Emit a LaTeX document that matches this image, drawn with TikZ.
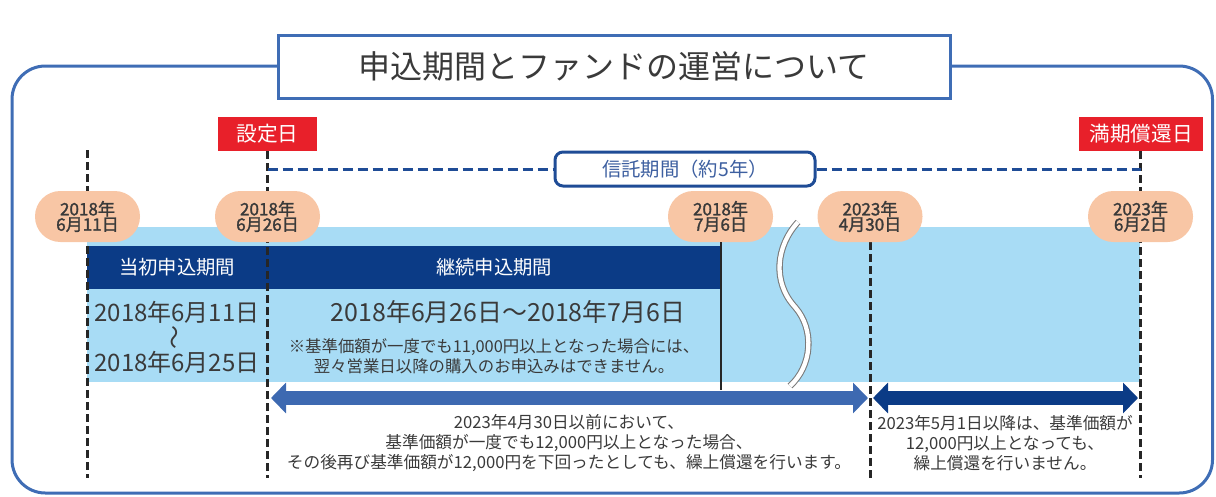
\documentclass[tikz,border=0pt]{standalone}
\usepackage{fontspec}
\setmainfont{Noto Sans CJK JP}
\newfontfamily\medfont[FakeBold=1.6]{Noto Sans CJK JP}
\usetikzlibrary{arrows.meta}
\definecolor{frameblue}{HTML}{3F6DB5}
\definecolor{redlab}{HTML}{E8202A}
\definecolor{peach}{HTML}{F8C6A5}
\definecolor{lightblue}{HTML}{A8DCF5}
\definecolor{navy}{HTML}{0B3B86}
\definecolor{arrowblue}{HTML}{3D69B1}
\definecolor{trustblue}{HTML}{1F4C96}
\definecolor{trusttext}{HTML}{3D5FA0}
\definecolor{txt}{HTML}{3A3A3A}
\definecolor{wavegray}{HTML}{7A7A7A}
\begin{document}
\begin{tikzpicture}[x=0.75pt,y=-0.75pt,
  frame/.style={draw=frameblue,line width=2.25pt,rounded corners=25pt},
  titlebox/.style={draw=frameblue,line width=2.25pt,fill=white,minimum width=504pt,minimum height=47.25pt,inner sep=0pt,text=txt,font=\fontsize{24pt}{28pt}\selectfont},
  redbox/.style={fill=redlab,text=white,minimum height=25.5pt,inner sep=0pt,font=\fontsize{15.5pt}{18pt}\selectfont},
  trustbox/.style={draw=trustblue,line width=2.25pt,fill=white,rounded corners=6pt,minimum width=195pt,minimum height=25.5pt,inner sep=0pt,text=trusttext,font=\fontsize{14.5pt}{17pt}\selectfont},
  dateoval/.style={fill=peach,rounded corners=19pt,minimum width=78.75pt,minimum height=38.25pt,inner sep=0pt,align=center,text=txt,font=\medfont\fontsize{12.8pt}{11.5pt}\selectfont},
  navybox/.style={fill=navy,text=white,minimum height=32.25pt,inner sep=0pt,font=\fontsize{14.5pt}{17pt}\selectfont},
  bigdate/.style={text=txt,inner sep=0pt,font=\fontsize{18pt}{21pt}\selectfont},
  note/.style={text=txt,inner sep=0pt,align=center,font=\fontsize{12.3pt}{15pt}\selectfont},
  bottomtxt/.style={text=txt,inner sep=0pt,align=center,font=\fontsize{12.5pt}{15pt}\selectfont},
  vdash/.style={draw=black!85,line width=2.25pt,dash pattern=on 6pt off 3pt},
  trustdash/.style={draw=trustblue,line width=2.25pt,dash pattern=on 7.5pt off 3.75pt},
  solidline/.style={draw=black!85,line width=1.5pt},
  bigarrow/.style={line width=10pt,{Triangle[width=22.5pt,length=11.25pt]}-{Triangle[width=22.5pt,length=11.25pt]}},
  wave/.style={draw=wavegray,line width=0.8pt,double=white,double distance=3.2pt}
]
\useasboundingbox (0,0) rectangle (1216,496);
% outer frame
\draw[frame] (12,66) rectangle (1212.5,493);
\node[titlebox] (title) at (614,66.5) {申込期間とファンドの運営について};

% background bands
\fill[lightblue] (87,227) rectangle (1140,382);
\node[navybox,minimum width=135pt] (initial) at (177,267.5) {当初申込期間};
\node[navybox,minimum width=340.5pt] (cont) at (494,267.5) {継続申込期間};

% red labels
\node[redbox,minimum width=74.25pt] (setdate) at (267.5,134) {設定日};
\node[redbox,minimum width=93pt] (enddate) at (1141,134) {満期償還日};

% vertical line coordinates
\coordinate (t1) at (87,150);
\coordinate (b1) at (87,478);
\coordinate (b2) at (267.5,478);
\coordinate (t4) at (870,242);
\coordinate (b4) at (870,478);
\coordinate (b5) at (1140.5,478);
\coordinate (b3) at (720.5,390);

\draw[vdash] (t1) -- (b1);
\draw[vdash] (setdate.south) -- (b2);
\draw[vdash] (t4) -- (b4);
\draw[vdash] (enddate.south -| b5) -- (b5);

% trust period
\node[trustbox] (trust) at (685,169) {信託期間（約5年）};
\coordinate (tl) at (267.5,169);
\coordinate (tr) at (1140.5,169);
\draw[trustdash] (tl) -- (trust.west);
\draw[trustdash] (trust.east) -- (tr);

% date ovals
\node[dateoval] (d1) at (87.5,216.5) {2018年\\6月11日};
\node[dateoval] (d2) at (267.5,216.5) {2018年\\6月26日};
\node[dateoval] (d3) at (720.5,216.5) {2018年\\7月6日};
\node[dateoval] (d4) at (870,216.5) {2023年\\4月30日};
\node[dateoval] (d5) at (1140.5,216.5) {2023年\\6月2日};

% solid line 7/6
\draw[solidline] (d3.south) -- (b3);

% wave break
\draw[wave] (798,222) .. controls (776,246) and (772,282) .. (795,307) .. controls (815,330) and (812,366) .. (790,386);

% texts in bands
\node[bigdate] (s1) at (177,312) {2018年6月11日};
\node[bigdate,rotate=90] (s2) at (177,337) {〜};
\node[bigdate] (s3) at (177,362) {2018年6月25日};
\node[bigdate,font=\fontsize{18.7pt}{21pt}\selectfont] (c1) at (508,312) {2018年6月26日〜2018年7月6日};
\node[note] (c2) at (494,356) {※基準価額が一度でも11,000円以上となった場合には、\\翌々営業日以降の購入のお申込みはできません。};

% arrows
\coordinate (a1) at (271,398);
\coordinate (a2) at (868,398);
\coordinate (a3) at (873,398);
\coordinate (a4) at (1138,398);
\draw[bigarrow,arrowblue] (a1) -- (a2);
\draw[bigarrow,navy] (a3) -- (a4);

% bottom texts
\node[bottomtxt] (n1) at (569,443) {2023年4月30日以前において、\\基準価額が一度でも12,000円以上となった場合、\\その後再び基準価額が12,000円を下回ったとしても、繰上償還を行います。};
\node[bottomtxt] (n2) at (1005,443) {2023年5月1日以降は、基準価額が\\12,000円以上となっても、\\繰上償還を行いません。};
\end{tikzpicture}
\end{document}
